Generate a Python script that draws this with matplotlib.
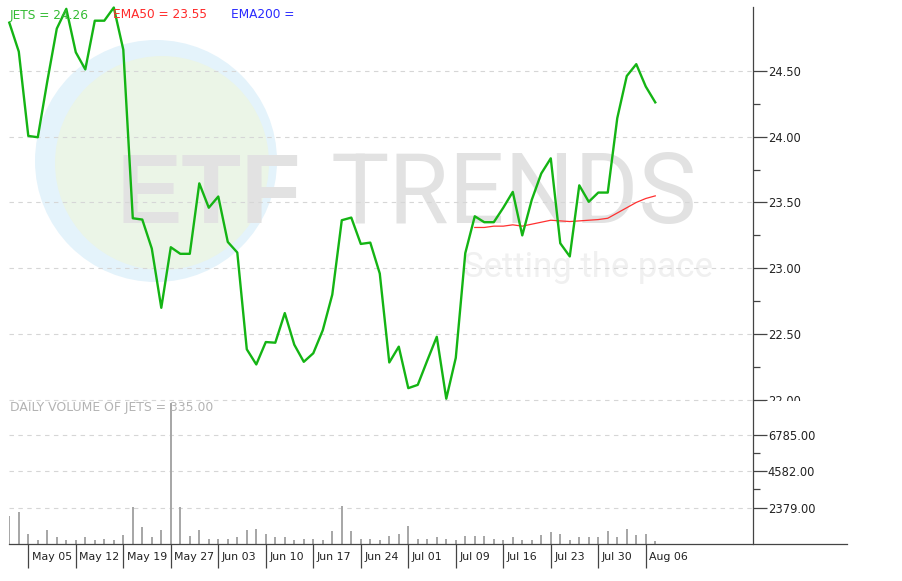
import matplotlib
matplotlib.use("Agg")
import matplotlib.pyplot as plt
from matplotlib.patches import Ellipse, Rectangle
from matplotlib.lines import Line2D
import numpy as np

# ---------------- data ----------------
price = [24.865, 24.645, 24.005, 23.995, 24.42, 24.82, 24.97, 24.64, 24.51, 24.88,
         24.88, 24.98, 24.66, 23.38, 23.37, 23.15, 22.70, 23.16, 23.11, 23.11,
         23.645, 23.46, 23.545, 23.20, 23.12, 22.385, 22.27, 22.44, 22.435, 22.66,
         22.42, 22.29, 22.355, 22.53, 22.80, 23.365, 23.385, 23.185, 23.195, 22.96,
         22.285, 22.405, 22.09, 22.115, 22.30, 22.48, 22.01, 22.32, 23.115, 23.395,
         23.35, 23.35, 23.46, 23.58, 23.25, 23.52, 23.72, 23.835, 23.19, 23.09,
         23.63, 23.505, 23.575, 23.575, 24.14, 24.46, 24.55, 24.38, 24.26]

ema50_start = 49
ema50 = [23.31, 23.31, 23.32, 23.32, 23.33, 23.32, 23.335, 23.35, 23.365, 23.36,
         23.355, 23.36, 23.365, 23.37, 23.38, 23.42, 23.46, 23.50, 23.53, 23.55]

volume = [1845, 2087, 799, 436, 1041, 581, 436, 436, 581, 436,
          497, 436, 738, 2414, 1204, 581, 1041, 8704, 2414, 678,
          1041, 497, 497, 497, 581, 1041, 1101, 799, 581, 581,
          436, 497, 497, 436, 944, 2492, 944, 497, 497, 436,
          678, 799, 1283, 497, 497, 581, 497, 436, 642, 678,
          642, 497, 436, 581, 436, 436, 738, 884, 799, 436,
          581, 581, 581, 944, 581, 1101, 738, 799, 335]

week_labels = ['May 05', 'May 12', 'May 19', 'May 27', 'Jun 03', 'Jun 10', 'Jun 17',
               'Jun 24', 'Jul 01', 'Jul 09', 'Jul 16', 'Jul 23', 'Jul 30', 'Aug 06']
week_pos = [2, 7, 12, 17, 22, 27, 32, 37, 42, 47, 52, 57, 62, 67]

price_ticks = [22.00, 22.50, 23.00, 23.50, 24.00, 24.50]
price_minor = [22.25, 22.75, 23.25, 23.75, 24.25]
vol_ticks = [2379.00, 4582.00, 6785.00]
vol_minor = [3480.5, 5683.5]

# ---------------- figure ----------------
plt.rcParams['font.family'] = ['DejaVu Sans']
W, H = 902, 581
fig = plt.figure(figsize=(W / 100, H / 100), dpi=100)
fig.patch.set_facecolor('white')

def fx(px):
    return px / W

def fy(py):
    return 1 - py / H

ax_left, ax_right = 9.3, 753.3
ax_p = fig.add_axes([fx(ax_left), fy(400), (ax_right - ax_left) / W, 393 / H])
ax_v = fig.add_axes([fx(ax_left), fy(544), (ax_right - ax_left) / W, 144 / H], sharex=ax_p)

idx = np.arange(len(price))
ax_p.set_xlim(0, 78.32)
ax_p.set_ylim(22.0, 24.984)
ax_v.set_ylim(176, 8885)

grid_kw = dict(color='#d6d6d6', lw=0.8, ls=(0, (4, 4)), zorder=1)
line_col = '#444444'

# ---- watermark ----
aw, ah = ax_right - ax_left, 393.0
def axc(px, py):
    return ((px - ax_left) / aw, (400 - py) / ah)

c1 = axc(156, 161)
ax_p.add_patch(Ellipse(c1, 242 / aw, 242 / ah, transform=ax_p.transAxes,
                       fc='#e4f3fb', ec='none', zorder=0.2))
c2 = axc(162, 163)
ax_p.add_patch(Ellipse(c2, 214 / aw, 214 / ah, transform=ax_p.transAxes,
                       fc='#ebf5e7', ec='none', zorder=0.3))
p = axc(116, 223)
ax_p.text(p[0], p[1], 'ETF', transform=ax_p.transAxes, fontsize=70.5,
          family='Liberation Sans', fontweight='bold', color='#e2e2e2',
          ha='left', va='baseline', zorder=0.5)
p = axc(331, 223)
ax_p.text(p[0], p[1], 'TRENDS', transform=ax_p.transAxes, fontsize=70.5,
          family='Roboto', color='#e2e2e2', ha='left', va='baseline', zorder=0.5)
p = axc(463, 277)
ax_p.text(p[0], p[1], 'Setting the pace', transform=ax_p.transAxes, fontsize=25,
          family='Roboto', color='#f0f0f0', ha='left', va='baseline', zorder=0.5)

# ---- gridlines ----
for t in price_ticks:
    ax_p.axhline(t, clip_on=False, **grid_kw)
for t in vol_ticks:
    ax_v.axhline(t, **grid_kw)

# ---- price + EMA ----
ax_p.plot(idx, price, color='#14b414', lw=1.7, zorder=3, clip_on=False,
          solid_joinstyle='round')
ax_p.plot(np.arange(ema50_start, ema50_start + len(ema50)), ema50,
          color='#ff3030', lw=0.9, zorder=2.5)

# ---- volume ----
ax_v.bar(idx, volume, width=0.22, color='#a8a8a8', zorder=2)

# ---- axes styling ----
for ax in (ax_p, ax_v):
    ax.patch.set_alpha(0)
    for s in ('left', 'top', 'bottom'):
        ax.spines[s].set_visible(False)
    ax.spines['right'].set_color(line_col)
    ax.spines['right'].set_linewidth(0.9)
    ax.yaxis.tick_right()
    ax.tick_params(axis='y', which='major', length=10, width=0.9, color=line_col,
                   pad=0.5, labelsize=8.3, labelcolor='#222222')
    ax.tick_params(axis='y', which='minor', length=5, width=0.9, color=line_col)

ax_p.set_yticks(price_ticks)
ax_p.set_yticklabels(['%.2f' % t for t in price_ticks])
ax_p.set_yticks(price_minor, minor=True)
ax_p.tick_params(axis='x', which='both', bottom=False, labelbottom=False)

ax_v.set_yticks(vol_ticks)
ax_v.set_yticklabels(['%.2f' % t for t in vol_ticks])
ax_v.set_yticks(vol_minor, minor=True)
ax_v.set_xticks(week_pos)
ax_v.set_xticklabels([])
ax_v.tick_params(axis='x', which='major', length=17.3, width=0.9, color=line_col,
                 direction='out')
for pos, lab in zip(week_pos, week_labels):
    ax_v.annotate(lab, xy=(pos, 0), xycoords=('data', 'axes fraction'),
                  xytext=(3.5, -12.5), textcoords='offset pixels',
                  ha='left', va='center', fontsize=7.9, color='#222222',
                  annotation_clip=False)

# bottom axis line extending past the right axis
fig.add_artist(Line2D([fx(9), fx(847)], [fy(544), fy(544)], color=line_col,
                      lw=0.9, transform=fig.transFigure, zorder=4))

# hide lower part of the clipped 22.00 label
fig.patches.append(Rectangle((fx(766), fy(409)), 50 / W, 8.5 / H,
                             transform=fig.transFigure, fc='white', ec='none', zorder=5))

# ---- legend texts ----
fig.text(fx(10), fy(15), 'JETS = 24.26', color='#33bb33', fontsize=8.7,
         ha='left', va='center', zorder=6)
fig.text(fx(113), fy(15), 'EMA50 = 23.55', color='#ff2a2a', fontsize=8.7,
         ha='left', va='center', zorder=6)
fig.text(fx(231), fy(15), 'EMA200 =', color='#2a2aff', fontsize=8.7,
         ha='left', va='center', zorder=6)
fig.text(fx(10), fy(408), 'DAILY VOLUME OF JETS = 335.00', color='#b3b3b3',
         fontsize=8.9, ha='left', va='center', zorder=1)

fig.savefig('out.png', dpi=100, facecolor='white')
